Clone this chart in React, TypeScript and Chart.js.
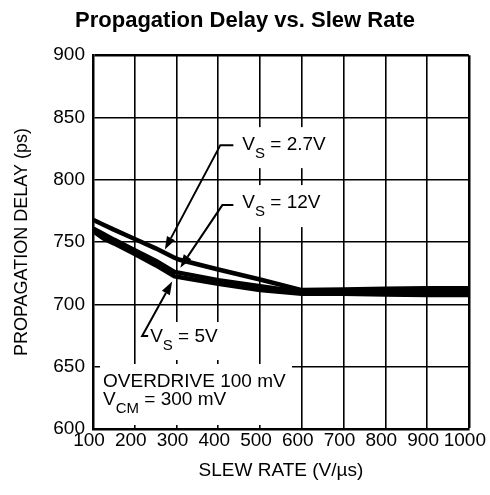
import { useEffect, useRef } from 'react';
import { Chart, registerables } from 'chart.js';

Chart.register(...registerables);

// ---- data ----
const slewRate = [100, 125, 150, 200, 250, 295, 305, 400, 500, 600, 700, 800, 900, 1000];
const delayVs27 = [768, 764, 760, 752.5, 745, 737.5, 736, 728, 720, 711.5, 712, 712.5, 713, 713];
const delayVs12 = [761, 756.5, 752, 743.5, 735, 726, 725.5, 719.5, 714.5, 710, 710, 710, 710.5, 710.5];
const delayVs5 = [759, 753, 749, 740.5, 731.5, 722.5, 722, 716.5, 711.5, 708.5, 708.5, 708, 707.5, 707.5];

const xTicks = [100, 200, 300, 400, 500, 600, 700, 800, 900, 1000];
const yTicks = [600, 650, 700, 750, 800, 850, 900];

const FONT = "'Liberation Sans', Arial, Helvetica, sans-serif";

type Callout = {
  main: string;
  sub: string;
  rest: string;
  at: [number, number]; // data coords of text start / baseline
  box: [number, number, number, number]; // px offsets from anchor: dx, dy, w, h
  start: [number, number]; // px offsets
  elbow: [number, number]; // px offsets
  tip: [number, number]; // data coords
};

const callouts: Callout[] = [
  { main: 'V', sub: 'S', rest: ' = 2.7V', at: [457.6, 823.8], box: [-20, -23, 113, 41], start: [-9, -5], elbow: [-22, -5], tip: [272, 744] },
  { main: 'V', sub: 'S', rest: ' = 12V', at: [457.6, 777.3], box: [-20, -23, 113, 42], start: [-9, -3], elbow: [-20, -3], tip: [309, 729.5] },
  { main: 'V', sub: 'S', rest: ' = 5V', at: [236.8, 669.8], box: [-10, -20, 110, 38], start: [-2, -6], elbow: [-8, -6], tip: [289.6, 718.3] },
];

const noteAt: [number, number] = [124, 633.7];

const annotationPlugin = {
  id: 'callouts',
  beforeDatasetsDraw(chart: any) {
    const { ctx, scales } = chart;
    const xs = scales.x, ys = scales.y;
    ctx.save();
    ctx.fillStyle = '#fff';
    for (const c of callouts) {
      const ax = xs.getPixelForValue(c.at[0]);
      const ay = ys.getPixelForValue(c.at[1]);
      ctx.fillRect(ax + c.box[0], ay + c.box[1], c.box[2], c.box[3]);
    }
    const nx = xs.getPixelForValue(noteAt[0]);
    const ny = ys.getPixelForValue(noteAt[1]);
    ctx.fillRect(nx - 3, ny - 23, 192, 61);
    ctx.restore();
  },
  afterDatasetsDraw(chart: any) {
    const { ctx, scales } = chart;
    const xs = scales.x, ys = scales.y;
    ctx.save();
    ctx.fillStyle = '#000';
    ctx.strokeStyle = '#000';
    ctx.textBaseline = 'alphabetic';
    ctx.textAlign = 'left';
    const bigF = `19px ${FONT}`;
    const subF = `15px ${FONT}`;
    const drawSub = (x: number, y: number, main: string, sub: string, rest: string) => {
      ctx.font = bigF;
      ctx.fillText(main, x, y);
      let cx = x + ctx.measureText(main).width;
      ctx.font = subF;
      ctx.fillText(sub, cx, y + 8);
      cx += ctx.measureText(sub).width;
      ctx.font = bigF;
      ctx.fillText(rest, cx, y);
    };
    for (const c of callouts) {
      const ax = xs.getPixelForValue(c.at[0]);
      const ay = ys.getPixelForValue(c.at[1]);
      drawSub(ax, ay, c.main, c.sub, c.rest);
      const sx = ax + c.start[0], sy = ay + c.start[1];
      const ex = ax + c.elbow[0], ey = ay + c.elbow[1];
      const tx = xs.getPixelForValue(c.tip[0]);
      const ty = ys.getPixelForValue(c.tip[1]);
      const ang = Math.atan2(ty - ey, tx - ex);
      const L = 13, W = 4.5;
      const bx = tx - L * Math.cos(ang), by = ty - L * Math.sin(ang);
      ctx.lineWidth = 2;
      ctx.beginPath();
      ctx.moveTo(sx, sy);
      ctx.lineTo(ex, ey);
      ctx.lineTo(bx, by);
      ctx.stroke();
      ctx.beginPath();
      ctx.moveTo(tx, ty);
      ctx.lineTo(bx + W * Math.sin(ang), by - W * Math.cos(ang));
      ctx.lineTo(bx - W * Math.sin(ang), by + W * Math.cos(ang));
      ctx.closePath();
      ctx.fill();
    }
    const nx = xs.getPixelForValue(noteAt[0]);
    const ny = ys.getPixelForValue(noteAt[1]);
    ctx.font = bigF;
    ctx.fillText('OVERDRIVE 100 mV', nx, ny);
    drawSub(nx, ny + 18, 'V', 'CM', ' = 300 mV');
    ctx.restore();
  },
};

export default function App() {
  const ref = useRef<HTMLCanvasElement | null>(null);
  useEffect(() => {
    document.body.style.margin = '0';
    const mk = (ys: number[]) => slewRate.map((x, i) => ({ x, y: ys[i] }));
    const lineStyle = {
      borderColor: '#000',
      backgroundColor: '#000',
      borderWidth: 4.5,
      pointRadius: 0,
      tension: 0,
      fill: false,
      borderJoinStyle: 'round' as const,
    };
    const chart = new Chart(ref.current as HTMLCanvasElement, {
      type: 'line',
      data: {
        datasets: [
          { label: 'VS = 2.7V', data: mk(delayVs27), ...lineStyle },
          { label: 'VS = 12V', data: mk(delayVs12), ...lineStyle },
          { label: 'VS = 5V', data: mk(delayVs5), ...lineStyle },
        ],
      },
      options: {
        animation: false,
        responsive: true,
        maintainAspectRatio: false,
        layout: { padding: { left: 0, right: 0, top: 0, bottom: 0 } },
        plugins: {
          legend: { display: false },
          tooltip: { enabled: false },
          title: {
            display: true,
            text: 'Propagation Delay vs. Slew Rate',
            color: '#000',
            font: { family: FONT, size: 22, weight: 'bold' },
            padding: { top: 8, bottom: 20.8 },
          },
        },
        scales: {
          x: {
            type: 'linear',
            min: 100,
            max: 1000,
            afterBuildTicks: (axis: any) => {
              axis.ticks = xTicks.map((v) => ({ value: v }));
            },
            afterFit: (axis: any) => {
              axis.height = 66;
            },
            grid: {
              color: '#000',
              lineWidth: (c: any) => (c.tick && c.tick.value === 1000 ? 2.5 : 1.6),
              drawTicks: false,
            },
            border: { color: '#000', width: 2.5 },
            ticks: {
              color: '#000',
              font: { family: FONT, size: 19 },
              padding: 0,
              labelOffset: -4,
              maxRotation: 0,
              autoSkip: false,
              callback: (v: any) => String(v),
            },
            title: {
              display: true,
              text: 'SLEW RATE (V/\u00B5s)',
              color: '#000',
              font: { family: FONT, size: 19 },
              padding: { top: 0, bottom: 12.6 },
            },
          },
          y: {
            type: 'linear',
            min: 600,
            max: 900,
            afterBuildTicks: (axis: any) => {
              axis.ticks = yTicks.map((v) => ({ value: v }));
            },
            afterFit: (axis: any) => {
              axis.width = 93;
            },
            grid: {
              color: '#000',
              lineWidth: (c: any) => (c.tick && c.tick.value === 900 ? 2.5 : 1.6),
              drawTicks: false,
            },
            border: { color: '#000', width: 2.5 },
            ticks: {
              color: '#000',
              font: { family: FONT, size: 19 },
              padding: 8,
              autoSkip: false,
            },
            title: {
              display: true,
              text: 'PROPAGATION DELAY (ps)',
              color: '#000',
              font: { family: FONT, size: 18 },
              padding: { top: 11.2, bottom: 0 },
            },
          },
        },
      },
      plugins: [annotationPlugin],
    });
    return () => chart.destroy();
  }, []);
  return (
    <div style={{ position: 'absolute', left: 0, top: 0, width: 490, height: 495, background: '#fff' }}>
      <canvas ref={ref} />
    </div>
  );
}
